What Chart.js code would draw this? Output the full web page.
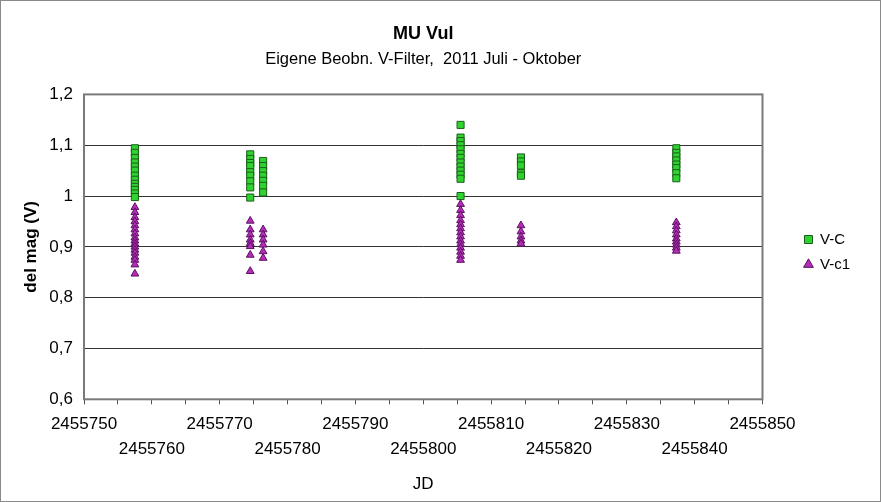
<!DOCTYPE html>
<html>
<head>
<meta charset="utf-8">
<script src="https://cdn.jsdelivr.net/npm/chart.js@4.4.1/dist/chart.umd.min.js"></script>
<style>
  html, body { margin: 0; padding: 0; background: #fff; }
  #frame { width: 881px; height: 502px; box-sizing: border-box; border: 1px solid #8a8a8a; }
  #wrap { position: relative; width: 879px; height: 500px; }
</style>
</head>
<body>
<div id="frame"><div id="wrap"><canvas id="muChart"></canvas></div></div>
<script>
// JD of each observing night
const nightJD = [2455757.5, 2455774.5, 2455776.4, 2455805.5, 2455814.4, 2455837.3];

// del mag V-C per night
const magVC = [
    [1.094, 1.085, 1.075, 1.066, 1.058, 1.05, 1.04, 1.032, 1.024, 1.018, 1.012, 1.005, 0.998],
    [1.082, 1.073, 1.065, 1.059, 1.047, 1.04, 1.029, 1.017, 0.997],
    [1.069, 1.059, 1.049, 1.04, 1.03, 1.02, 1.007],
    [1.14, 1.115, 1.108, 1.1, 1.092, 1.083, 1.075, 1.066, 1.058, 1.05, 1.042, 1.034, 1.0],
    [1.076, 1.068, 1.06, 1.045, 1.04],
    [1.094, 1.085, 1.078, 1.07, 1.062, 1.055, 1.045, 1.035]
];

// del mag V-c1 per night
const magVc1 = [
    [0.978, 0.968, 0.958, 0.95, 0.942, 0.934, 0.926, 0.918, 0.912, 0.906, 0.9, 0.894, 0.888, 0.88, 0.874, 0.865, 0.847],
    [0.951, 0.934, 0.924, 0.914, 0.907, 0.901, 0.884, 0.852],
    [0.934, 0.924, 0.914, 0.904, 0.891, 0.878],
    [0.984, 0.972, 0.962, 0.952, 0.944, 0.936, 0.928, 0.92, 0.912, 0.905, 0.898, 0.89, 0.882, 0.874],
    [0.942, 0.93, 0.92, 0.912, 0.906],
    [0.948, 0.94, 0.932, 0.924, 0.916, 0.91, 0.904, 0.898, 0.892]
];

const jdMin = 2455750;
const jdMax = 2455850;
const magMin = 0.6;
const magMax = 1.2;

function toPoints(mags) {
    let pts = [];
    mags.forEach(function(list, i) {
        list.forEach(function(m) {
            pts.push({x: nightJD[i], y: m});
        });
    });
    return pts;
}

// box round the plot area
const plotBorder = {
    id: 'plotBorder',
    afterDraw: function(chart) {
        let a = chart.chartArea;
        let ctx = chart.ctx;
        ctx.save();
        ctx.strokeStyle = '#7a7a7a';
        ctx.lineWidth = 2;
        ctx.strokeRect(a.left, a.top, a.right - a.left, a.bottom - a.top);
        ctx.restore();
    }
};

const fontFam = "'Liberation Sans', Arial, sans-serif";

function manageMuVulChart() {
    let ctx = document.getElementById("muChart").getContext('2d');
    new Chart(ctx, {
        type: 'scatter',
        data: {
            datasets: [{
                label: "V-C",
                data: toPoints(magVC),
                pointStyle: 'rect',
                pointRadius: 5,
                pointHoverRadius: 5,
                backgroundColor: '#2fd22f',
                borderColor: '#1b5e1b',
                borderWidth: 1
            },
                {
                    label: "V-c1",
                    data: toPoints(magVc1),
                    pointStyle: 'triangle',
                    pointRadius: 4.5,
                    pointHoverRadius: 4.5,
                    backgroundColor: '#b52cb8',
                    borderColor: '#5a1260',
                    borderWidth: 1
                }
            ]
        },
        options: {
            responsive: true,
            maintainAspectRatio: false,
            animation: false,
            layout: {
                padding: {left: 0, right: 20, top: 8, bottom: 6}
            },
            plugins: {
                title: {
                    display: true,
                    text: 'MU Vul',
                    fullSize: false,
                    color: '#000',
                    font: {family: fontFam, size: 18, weight: 'bold'},
                    padding: {top: 14, bottom: 4}
                },
                subtitle: {
                    display: true,
                    text: 'Eigene Beobn. V-Filter,  2011 Juli - Oktober',
                    fullSize: false,
                    color: '#000',
                    font: {family: fontFam, size: 16.5},
                    padding: {top: 1, bottom: 25}
                },
                legend: {
                    position: 'right',
                    align: 'center',
                    labels: {
                        usePointStyle: true,
                        boxWidth: 8,
                        boxHeight: 8,
                        color: '#000',
                        padding: 10,
                        font: {family: fontFam, size: 15}
                    }
                },
                tooltip: {enabled: false}
            },
            scales: {
                x: {
                    type: 'linear',
                    min: jdMin,
                    max: jdMax,
                    afterBuildTicks: function(scale) {
                        let t = [];
                        for (let v = jdMin; v <= jdMax; v += 5) t.push({value: v});
                        scale.ticks = t;
                    },
                    grid: {
                        drawOnChartArea: false,
                        drawTicks: true,
                        tickLength: 5,
                        color: '#555'
                    },
                    border: {display: false},
                    ticks: {
                        autoSkip: false,
                        maxRotation: 0,
                        minRotation: 0,
                        padding: 8,
                        color: '#000',
                        font: {family: fontFam, size: 17, lineHeight: 1.45},
                        callback: function(value) {
                            let d = Math.round(value - jdMin);
                            if (d % 20 === 0) return [String(value), ''];
                            if (d % 10 === 0) return ['', String(value)];
                            return '';
                        }
                    },
                    title: {
                        display: true,
                        text: 'JD',
                        color: '#000',
                        font: {family: fontFam, size: 17},
                        padding: {top: 5, bottom: 0}
                    }
                },
                y: {
                    min: magMin,
                    max: magMax,
                    afterFit: function(scale) {
                        scale.width = 83;
                    },
                    grid: {
                        drawTicks: false,
                        color: '#333',
                        lineWidth: 1
                    },
                    border: {display: false},
                    ticks: {
                        stepSize: 0.1,
                        padding: 11,
                        color: '#000',
                        font: {family: fontFam, size: 17},
                        callback: function(value) {
                            return String(Number(value.toFixed(1))).replace('.', ',');
                        }
                    },
                    title: {
                        display: true,
                        text: 'del mag (V)',
                        color: '#000',
                        font: {family: fontFam, size: 17, weight: 'bold'},
                        padding: {top: 20, bottom: 4}
                    }
                },
                // empty axis on the right, only keeps the gap before the legend
                gap: {
                    position: 'right',
                    min: magMin,
                    max: magMax,
                    afterFit: function(scale) {
                        scale.width = 32;
                    },
                    grid: {display: false},
                    border: {display: false},
                    ticks: {display: false}
                }
            }
        },
        plugins: [plotBorder]
    });
}

document.addEventListener('DOMContentLoaded', function() {
    manageMuVulChart();
});
</script>
</body>
</html>
